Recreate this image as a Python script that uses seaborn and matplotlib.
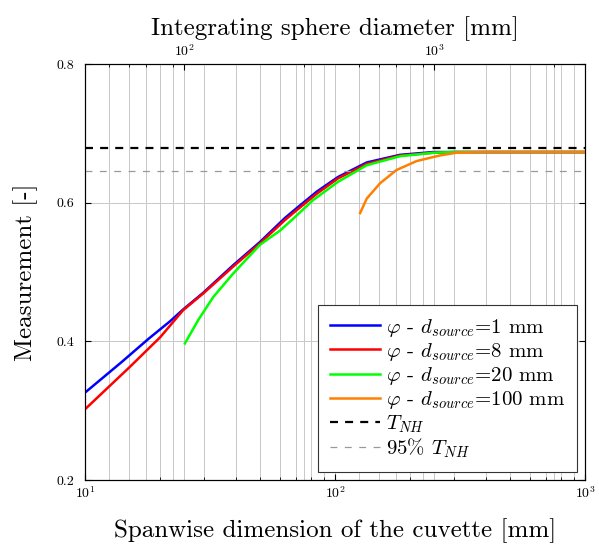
import numpy as np
import pandas as pd
import matplotlib
matplotlib.use("Agg")
import matplotlib.pyplot as plt
import matplotlib.ticker as mticker
import seaborn as sns

# Spanwise cuvette dimension [mm] and measured value for each source diameter
span_1mm = [10, 14, 18, 21.9, 24.7, 29.7, 39.2, 50, 63.1, 70.2, 84.6, 102.8, 134, 182, 247, 300, 500, 1000]
meas_1mm = [0.326, 0.370, 0.404, 0.429, 0.446, 0.470, 0.510, 0.543, 0.578, 0.592, 0.616, 0.637, 0.658, 0.669, 0.673, 0.673, 0.673, 0.673]

span_8mm = [10, 15, 20, 24.7, 29.7, 39.2, 50, 63.1, 70.2, 84.6, 102.8, 134, 182, 247, 300, 500, 1000]
meas_8mm = [0.302, 0.362, 0.406, 0.445, 0.469, 0.508, 0.541, 0.575, 0.589, 0.613, 0.635, 0.656, 0.668, 0.672, 0.673, 0.673, 0.673]

span_20mm = [25.1, 28.4, 32.6, 39.2, 50, 60.4, 68.1, 81.9, 102.8, 134, 182, 247, 300, 500, 1000]
meas_20mm = [0.397, 0.431, 0.464, 0.498, 0.539, 0.560, 0.577, 0.604, 0.630, 0.654, 0.667, 0.672, 0.673, 0.673, 0.673]

span_100mm = [126, 134, 151.5, 176, 212, 262, 306, 400, 1000]
meas_100mm = [0.585, 0.606, 0.628, 0.647, 0.660, 0.668, 0.672, 0.673, 0.673]

series_labels = [r"$\varphi$ - $d_{source}$=1 mm", r"$\varphi$ - $d_{source}$=8 mm",
                 r"$\varphi$ - $d_{source}$=20 mm", r"$\varphi$ - $d_{source}$=100 mm"]
series_colors = ["#0000ff", "#ff0000", "#00ff00", "#ff8000"]

t_nh = 0.679
t_nh_95 = 0.95 * t_nh

# sphere diameter = 4 x spanwise dimension
sphere_factor = 4.0

plt.rcParams["font.family"] = ["cmr10", "DejaVu Serif"]
plt.rcParams["mathtext.fontset"] = "cm"
plt.rcParams["axes.formatter.use_mathtext"] = True
plt.rcParams["axes.unicode_minus"] = False

frames = []
for xs, ys, lab in zip([span_1mm, span_8mm, span_20mm, span_100mm],
                       [meas_1mm, meas_8mm, meas_20mm, meas_100mm], series_labels):
    frames.append(pd.DataFrame({"span": xs, "meas": ys, "series": lab}))
df = pd.concat(frames, ignore_index=True)

fig = plt.figure(figsize=(5.99, 5.45), dpi=100)
ax = fig.add_axes([85 / 599, 1 - 480 / 545, 500 / 599, 416 / 545])

grid_kw = dict(color="#c8c8c8", linewidth=0.7)

# top axis: integrating sphere diameter, with its own grid drawn beneath the data
ax_top = ax.twiny()
ax_top.set_zorder(ax.get_zorder() - 1)
ax.patch.set_visible(False)

sns.lineplot(data=df, x="span", y="meas", hue="series", palette=series_colors,
             estimator=None, sort=False, linewidth=1.8, ax=ax)
ax.axhline(t_nh, color="black", linestyle=(0, (3.6, 3.2)), linewidth=1.6, label=r"$T_{NH}$")
ax.axhline(t_nh_95, color="#999999", linestyle=(0, (5.5, 6.0)), linewidth=0.9, label=r"95% $T_{NH}$")

ax.set_xscale("log")
ax.set_xlim(10, 1000)
ax.set_ylim(0.2, 0.8)
ax.set_yticks([0.2, 0.4, 0.6, 0.8])
ax.yaxis.set_major_formatter(mticker.FormatStrFormatter("%.1f"))
ax.xaxis.set_minor_formatter(mticker.NullFormatter())
ax.grid(True, which="major", axis="both", **grid_kw)
ax.grid(True, which="minor", axis="x", **grid_kw)
ax.tick_params(which="both", direction="in", top=False, right=True, labelsize=10)
ax.tick_params(which="major", length=4)
ax.tick_params(which="minor", length=2.5)
ax.tick_params(axis="y", pad=8)
ax.set_xlabel("Spanwise dimension of the cuvette [mm]", fontsize=18, labelpad=13)
ax.set_ylabel("Measurement [-]", fontsize=18, labelpad=13)

ax_top.set_xscale("log")
ax_top.set_xlim(10 * sphere_factor, 1000 * sphere_factor)
ax_top.xaxis.set_minor_formatter(mticker.NullFormatter())
ax_top.grid(True, which="both", axis="x", **grid_kw)
ax_top.tick_params(which="both", direction="in", labelsize=10)
ax_top.tick_params(which="major", length=4)
ax_top.tick_params(which="minor", length=2.5)
ax_top.set_xlabel("Integrating sphere diameter [mm]", fontsize=18, labelpad=6)

for a in (ax, ax_top):
    for s in a.spines.values():
        s.set_linewidth(0.8)
        s.set_color("black")

leg = ax.legend(loc="lower right", fontsize=15, frameon=True, fancybox=False,
                edgecolor="#333333", framealpha=1, handlelength=2.4,
                borderaxespad=0.4, labelspacing=0.1, borderpad=0.55, handletextpad=0.3)
leg.get_frame().set_linewidth(0.8)

fig.savefig("out.png", dpi=100)
